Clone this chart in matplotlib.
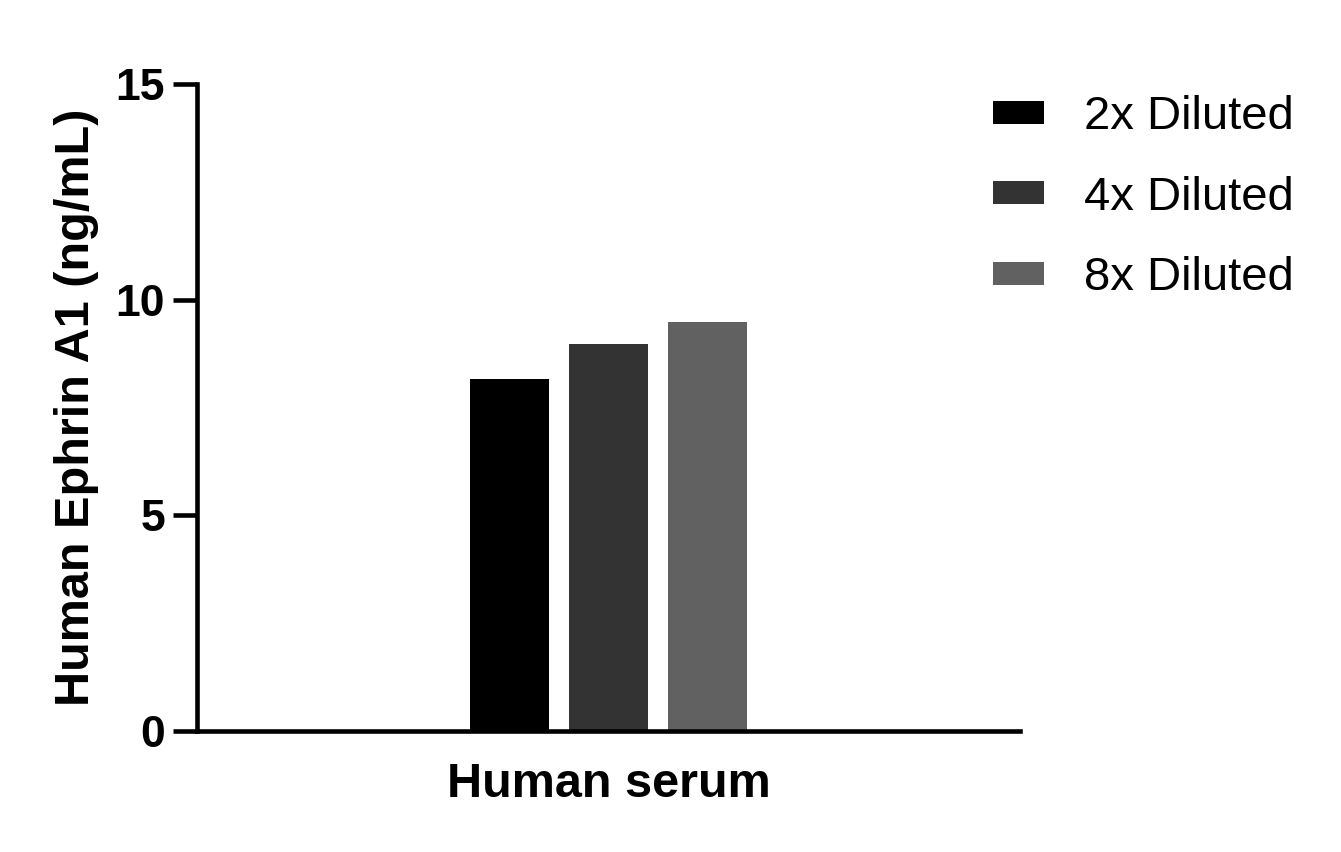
import matplotlib.pyplot as plt

groups = ["Human serum"]
series = ["2x Diluted", "4x Diluted", "8x Diluted"]
values = [8.17, 8.98, 9.49]
colors = ["#000000", "#333333", "#616161"]

plt.rcParams['font.family'] = ['Liberation Sans', 'DejaVu Sans']

fig = plt.figure(figsize=(13.41, 8.52), dpi=100)
ax = fig.add_axes([0.1469, 0.142, 0.6137, 0.7594])

width = 0.79
for i, (name, v, c) in enumerate(zip(series, values, colors)):
	ax.bar(i - 1, v, width=width, color=c, label=name)

ax.set_xlim(-4.157, 4.157)
ax.set_ylim(0, 15)
ax.set_yticks([0, 5, 10, 15])
ax.set_xticks([0])
ax.set_xticklabels(groups, fontsize=35, fontweight="bold")
ax.tick_params(axis='x', length=0, pad=22)
ax.tick_params(axis='y', length=17, width=3.3, labelsize=32, pad=6)
for lab in ax.get_yticklabels():
	lab.set_fontweight("bold")

ax.spines['top'].set_visible(False)
ax.spines['right'].set_visible(False)
ax.spines['left'].set_linewidth(3.3)
ax.spines['bottom'].set_linewidth(3.3)

ax.set_ylabel("Human Ephrin A1 (ng/mL)", fontsize=35, fontweight="bold", labelpad=12)

leg = ax.legend(loc="upper left", bbox_to_anchor=(0.915, 1.048), frameon=False,
	fontsize=34, handlelength=1.1, handleheight=0.37, handletextpad=0.84,
	labelspacing=0.77)

plt.savefig("out.png", dpi=100)
